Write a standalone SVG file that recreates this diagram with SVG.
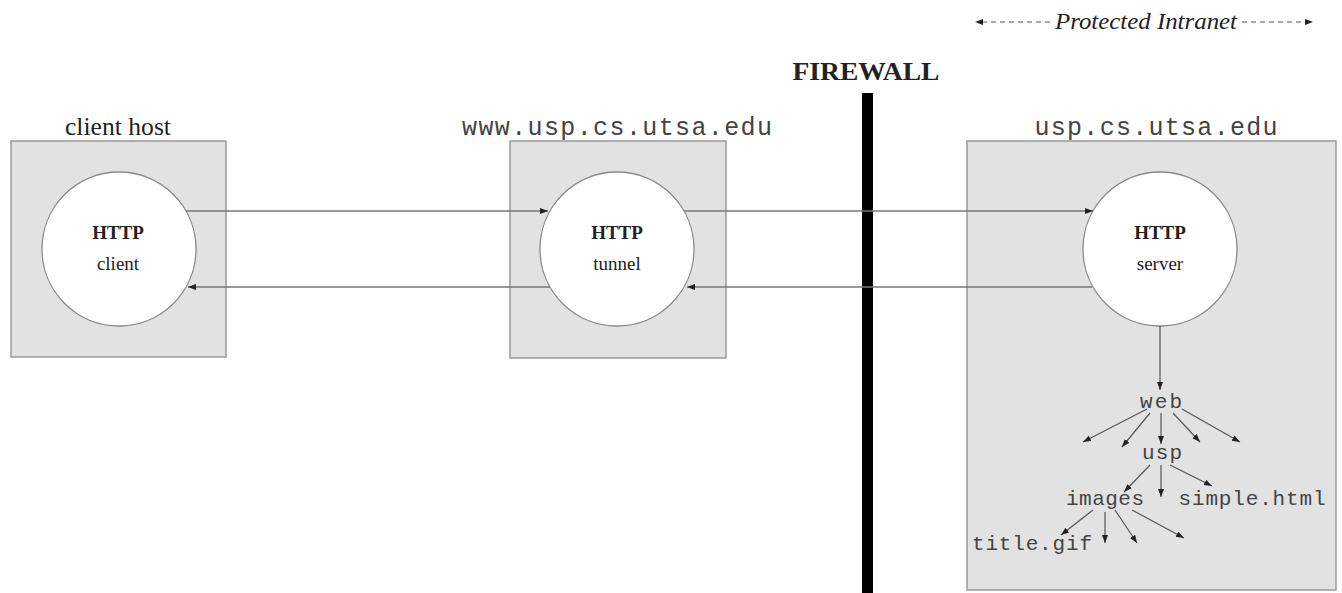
<svg xmlns="http://www.w3.org/2000/svg" width="1342" height="593" viewBox="0 0 1342 593">
<style>
.box{fill:#e2e2e2;stroke:#9a9a9a;stroke-width:1.5}
.circ{fill:#ffffff;stroke:#8a8a8a;stroke-width:1.3}
.serif{font-family:"Liberation Serif","Times New Roman",serif;fill:#222}
.mono{font-family:"Liberation Mono","Courier New",monospace;fill:#444}
.lbl{font-size:19px;text-anchor:middle}
.bold{font-weight:bold}
.conn{stroke:#777;stroke-width:1.4;fill:none}
.tree{stroke:#555;stroke-width:1.2;fill:none}
.dash{stroke:#555;stroke-width:1.2;stroke-dasharray:5 4;fill:none}
</style>
<defs>
<marker id="ah" markerUnits="userSpaceOnUse" markerWidth="10" markerHeight="8" refX="8" refY="3" orient="auto">
<path d="M0,0 L8,3 L0,6 z" fill="#222"/>
</marker>
</defs>

<g id="protected-intranet">
<line class="dash" x1="982" y1="22" x2="1050" y2="22"/>
<path d="M975,22 L983,19 L983,25 z" fill="#222"/>
<line class="dash" x1="1242" y1="22" x2="1306" y2="22"/>
<path d="M1313,22 L1305,19 L1305,25 z" fill="#222"/>
<text class="serif" x="1146" y="29" font-size="23" font-style="italic" text-anchor="middle" textLength="182" lengthAdjust="spacingAndGlyphs">Protected Intranet</text>
</g>

<g id="firewall">
<text class="serif bold" x="866" y="80" font-size="26" text-anchor="middle" textLength="147" lengthAdjust="spacingAndGlyphs">FIREWALL</text>
<rect x="862" y="93" width="11" height="500" fill="#000"/>
</g>

<g id="client-host">
<text class="serif" x="118" y="135" font-size="25" text-anchor="middle" textLength="106" lengthAdjust="spacingAndGlyphs">client host</text>
<rect class="box" x="11" y="141" width="215" height="216"/>
</g>

<g id="tunnel-host">
<text class="mono" x="617" y="135" font-size="25" text-anchor="middle" textLength="310" lengthAdjust="spacing">www.usp.cs.utsa.edu</text>
<rect class="box" x="510" y="141" width="216" height="217"/>
</g>

<g id="server-host">
<text class="mono" x="1156" y="135" font-size="25" text-anchor="middle" textLength="243" lengthAdjust="spacing">usp.cs.utsa.edu</text>
<rect class="box" x="967" y="141" width="369" height="449"/>
</g>

<g id="http-client">
<circle class="circ" cx="119" cy="249" r="77"/>
<text class="serif lbl bold" x="118" y="239">HTTP</text>
<text class="serif lbl" x="118" y="270">client</text>
</g>

<g id="http-tunnel">
<circle class="circ" cx="617" cy="249" r="77"/>
<text class="serif lbl bold" x="617" y="239">HTTP</text>
<text class="serif lbl" x="617" y="270">tunnel</text>
</g>

<g id="http-server">
<circle class="circ" cx="1160" cy="249" r="77"/>
<text class="serif lbl bold" x="1160" y="239">HTTP</text>
<text class="serif lbl" x="1160" y="270">server</text>
</g>

<g id="connectors">
<line class="conn" x1="186" y1="211" x2="548" y2="211" marker-end="url(#ah)"/>
<line class="conn" x1="684" y1="211" x2="1093" y2="211" marker-end="url(#ah)"/>
<line class="conn" x1="1092" y1="287" x2="687" y2="287" marker-end="url(#ah)"/>
<line class="conn" x1="550" y1="287" x2="188" y2="287" marker-end="url(#ah)"/>
<line class="tree" x1="1160" y1="326" x2="1160" y2="390" marker-end="url(#ah)"/>
<line class="tree" x1="1147" y1="409" x2="1083" y2="442" marker-end="url(#ah)"/>
<line class="tree" x1="1150" y1="413" x2="1122" y2="447" marker-end="url(#ah)"/>
<line class="tree" x1="1161" y1="413" x2="1161" y2="444" marker-end="url(#ah)"/>
<line class="tree" x1="1173" y1="413" x2="1200" y2="442" marker-end="url(#ah)"/>
<line class="tree" x1="1182" y1="409" x2="1240" y2="442" marker-end="url(#ah)"/>
<line class="tree" x1="1150" y1="465" x2="1124" y2="492" marker-end="url(#ah)"/>
<line class="tree" x1="1161" y1="465" x2="1161" y2="497" marker-end="url(#ah)"/>
<line class="tree" x1="1170" y1="465" x2="1212" y2="486" marker-end="url(#ah)"/>
<line class="tree" x1="1093" y1="510" x2="1061" y2="535" marker-end="url(#ah)"/>
<line class="tree" x1="1105" y1="512" x2="1105" y2="543" marker-end="url(#ah)"/>
<line class="tree" x1="1115" y1="510" x2="1137" y2="543" marker-end="url(#ah)"/>
<line class="tree" x1="1132" y1="510" x2="1184" y2="538" marker-end="url(#ah)"/>
</g>

<g id="tree-labels">
<text class="mono" x="1161" y="408" font-size="21" text-anchor="middle" textLength="42" lengthAdjust="spacing">web</text>
<text class="mono" x="1162" y="459" font-size="21" text-anchor="middle" textLength="40" lengthAdjust="spacing">usp</text>
<text class="mono" x="1105" y="505" font-size="21" text-anchor="middle" textLength="78" lengthAdjust="spacing">images</text>
<text class="mono" x="1252" y="505" font-size="21" text-anchor="middle" textLength="147" lengthAdjust="spacing">simple.html</text>
<text class="mono" x="1032" y="550" font-size="21" text-anchor="middle" textLength="120" lengthAdjust="spacing">title.gif</text>
</g>
</svg>
